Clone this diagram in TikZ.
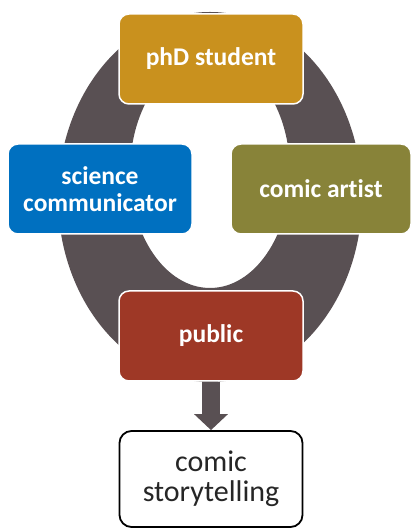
\documentclass[tikz,border=0pt]{standalone}
\usepackage{fontspec}
\setmainfont{Carlito}[Ligatures=NoCommon]
\usetikzlibrary{positioning,arrows.meta}
\definecolor{ringgray}{RGB}{89,80,83}
\definecolor{phdgold}{RGB}{201,145,30}
\definecolor{scicblue}{RGB}{0,112,192}
\definecolor{artolive}{RGB}{136,131,57}
\definecolor{pubred}{RGB}{158,56,38}

\begin{document}
\begin{tikzpicture}[x=1pt,y=1pt,on grid,
  role/.style={draw=white,line width=1.5pt,fill=#1,rounded corners=10pt,
    minimum width=184pt,minimum height=90pt,text=white,align=center,
    font=\bfseries\fontsize{25.5}{27}\selectfont},
  outcome/.style={draw=black,line width=1.8pt,fill=white,rounded corners=12pt,
    minimum width=183pt,minimum height=96pt,text=black!85,align=center,
    font=\fontsize{30}{30}\selectfont},
  flowarrow/.style={ringgray,line width=18pt,-{Triangle[width=33pt,length=16pt]}}]
\useasboundingbox (0,0) rectangle (412,529);
% ring behind the roles
\fill[ringgray,even odd rule] (210,332) ellipse [x radius=152pt,y radius=185pt]
  (210,357) ellipse [x radius=80pt,y radius=116pt];
\node[role=phdgold] (phd) at (211,470) {phD student};
\node[role=scicblue] (scic) [below left=130pt and 111pt of phd] {science\\communicator};
\node[role=artolive,minimum width=180pt] (artist) [below right=130pt and 110pt of phd] {comic artist};
\node[role=pubred] (public) [below=277pt of phd] {public};
\node[outcome] (story) [below=143pt of public] {comic\\storytelling};
\draw[flowarrow] (public) -- (story);
\end{tikzpicture}
\end{document}
